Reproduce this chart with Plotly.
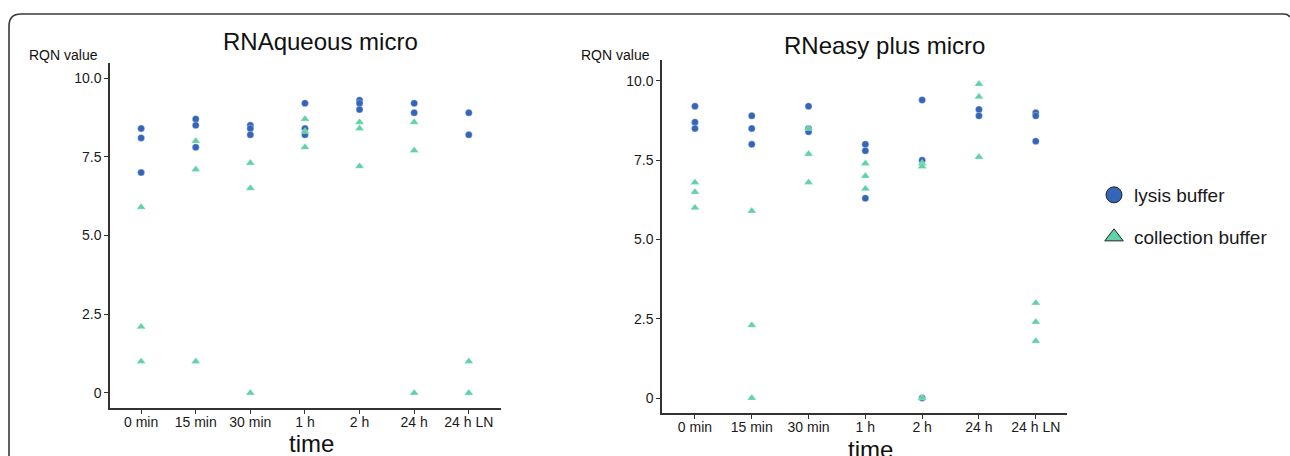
import plotly.graph_objects as go

W, H = 1290, 456

categories = ["0 min", "15 min", "30 min", "1 h", "2 h", "24 h", "24 h LN"]
y_tickvals = [0, 2.5, 5, 7.5, 10]
y_ticktext = ["0", "2.5", "5.0", "7.5", "10.0"]

# RNAqueous micro
aq_lysis_time = ["0 min"] * 3 + ["15 min"] * 3 + ["30 min"] * 3 + ["1 h"] * 3 + ["2 h"] * 3 + ["24 h"] * 2 + ["24 h LN"] * 2
aq_lysis_rqn = [8.4, 8.1, 7.0, 8.7, 8.5, 7.8, 8.5, 8.4, 8.2, 9.2, 8.4, 8.2, 9.3, 9.2, 9.0, 9.2, 8.9, 8.9, 8.2]
aq_coll_time = ["0 min"] * 3 + ["15 min"] * 3 + ["30 min"] * 3 + ["1 h"] * 3 + ["2 h"] * 3 + ["24 h"] * 3 + ["24 h LN"] * 2
aq_coll_rqn = [5.9, 2.1, 1.0, 8.0, 7.1, 1.0, 7.3, 6.5, 0.0, 8.7, 8.3, 7.8, 8.6, 8.4, 7.2, 8.6, 7.7, 0.0, 1.0, 0.0]

# RNeasy plus micro
ep_lysis_time = ["0 min"] * 3 + ["15 min"] * 3 + ["30 min"] * 3 + ["1 h"] * 3 + ["2 h"] * 3 + ["24 h"] * 2 + ["24 h LN"] * 3
ep_lysis_rqn = [9.2, 8.7, 8.5, 8.9, 8.5, 8.0, 9.2, 8.5, 8.4, 8.0, 7.8, 6.3, 9.4, 7.5, 0.0, 9.1, 8.9, 9.0, 8.9, 8.1]
ep_coll_time = ["0 min"] * 3 + ["15 min"] * 3 + ["30 min"] * 3 + ["1 h"] * 3 + ["2 h"] * 3 + ["24 h"] * 3 + ["24 h LN"] * 3
ep_coll_rqn = [6.8, 6.5, 6.0, 5.9, 2.3, 0.0, 8.5, 7.7, 6.8, 7.4, 7.0, 6.6, 7.4, 7.3, 0.0, 9.9, 9.5, 7.6, 3.0, 2.4, 1.8]

BLUE = "#3465B8"
GREEN = "#5FD3A6"
FONT = "Liberation Sans, Arial, sans-serif"
DARK = "#333333"

fig = go.Figure()

def add_points(x, y, xa, ya, color, symbol, size):
    fig.add_trace(go.Scatter(
        x=x, y=y, xaxis=xa, yaxis=ya, mode="markers", showlegend=False,
        marker=dict(color=color, symbol=symbol, size=size, line=dict(color="rgba(255,255,255,0.6)", width=0.5)),
        hoverinfo="x+y"))

add_points(aq_lysis_time, aq_lysis_rqn, "x", "y", BLUE, "circle", 7)
add_points(aq_coll_time, aq_coll_rqn, "x", "y", GREEN, "triangle-up", 8)
add_points(ep_lysis_time, ep_lysis_rqn, "x2", "y2", BLUE, "circle", 7)
add_points(ep_coll_time, ep_coll_rqn, "x2", "y2", GREEN, "triangle-up", 8)

# legend entries
fig.add_trace(go.Scatter(x=[None], y=[None], mode="markers", name="lysis buffer", legend="legend",
                         marker=dict(color=BLUE, symbol="circle", size=16, line=dict(color="#222", width=1))))
fig.add_trace(go.Scatter(x=[None], y=[None], mode="markers", name="collection buffer", legend="legend2",
                         marker=dict(color=GREEN, symbol="triangle-up", size=16, line=dict(color="#222", width=1))))

def px_x(p):
    return p / W

def px_y(p):
    return 1 - p / H

xcommon = dict(type="category", categoryorder="array", categoryarray=categories,
               showgrid=False, zeroline=False, showline=True, linecolor=DARK, linewidth=1.5,
               ticks="outside", ticklen=4, tickwidth=1, tickcolor=DARK, ticklabelstandoff=-4,
               tickfont=dict(family=FONT, size=14, color="#1a1a1a"))
ycommon = dict(tickvals=y_tickvals, ticktext=y_ticktext,
               showgrid=False, zeroline=False, showline=True, linecolor=DARK, linewidth=1.5,
               ticks="outside", ticklen=4, tickwidth=1, tickcolor=DARK,
               tickfont=dict(family=FONT, size=14, color="#1a1a1a"))

fig.update_layout(
    width=W, height=H,
    margin=dict(l=0, r=0, t=0, b=0),
    paper_bgcolor="white", plot_bgcolor="white",
    xaxis=dict(domain=[px_x(110), px_x(501)], anchor="y", range=[-0.57, 6.59], **xcommon),
    yaxis=dict(domain=[px_y(408), px_y(63)], anchor="x", range=[-0.48, 10.48], **ycommon),
    xaxis2=dict(domain=[px_x(662), px_x(1067)], anchor="y2", range=[-0.58, 6.55], **xcommon),
    yaxis2=dict(domain=[px_y(413), px_y(60)], anchor="x2", range=[-0.47, 10.66], **ycommon),
    legend=dict(x=px_x(1094), y=px_y(195), xanchor="left", yanchor="middle",
                font=dict(family=FONT, size=19, color="#1a1a1a"), bgcolor="rgba(0,0,0,0)"),
    legend2=dict(x=px_x(1094), y=px_y(237), xanchor="left", yanchor="middle",
                 font=dict(family=FONT, size=19, color="#1a1a1a"), bgcolor="rgba(0,0,0,0)"),
)

def ann(text, x, y, size, xanchor="center"):
    fig.add_annotation(text=text, x=px_x(x), y=px_y(y), xref="paper", yref="paper",
                       xanchor=xanchor, yanchor="middle", showarrow=False,
                       font=dict(family=FONT, size=size, color="#111"))

ann("RNAqueous micro", 320, 42, 24)
ann("RNeasy plus micro", 884, 46, 24)
ann("RQN value", 27, 55, 14, "left")
ann("RQN value", 579, 55, 14, "left")
ann("time", 311, 443, 24)
ann("time", 870, 449, 24)

# rounded frame (panel border)
pts = "M {:.5f},{:.5f} L {:.5f},{:.5f} Q {:.5f},{:.5f} {:.5f},{:.5f} L {:.5f},{:.5f} Q {:.5f},{:.5f} {:.5f},{:.5f}".format(
    px_x(9), px_y(458), px_x(9), px_y(26), px_x(9), px_y(14), px_x(21), px_y(14),
    px_x(1284), px_y(14), px_x(1288), px_y(14), px_x(1290), px_y(17))
fig.add_shape(type="path", path=pts, xref="paper", yref="paper",
              line=dict(color="#3a3a3a", width=1.6))

fig.write_html("out.html", config={"displayModeBar": False},
               post_script="document.body.style.margin='0';document.body.style.padding='0';document.body.style.overflow='hidden';")
